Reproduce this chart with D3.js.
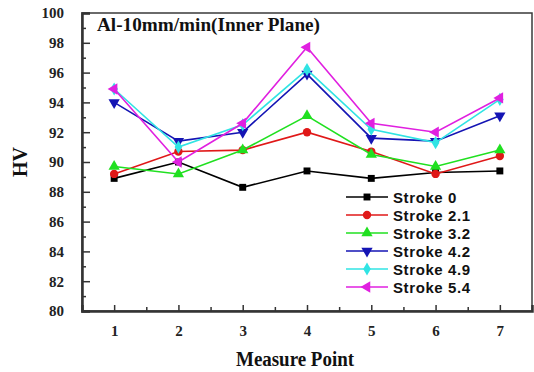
<!DOCTYPE html>
<html>
<head>
<meta charset="utf-8">
<script src="https://cdn.jsdelivr.net/npm/d3@7"></script>
<style>
  body { margin: 0; background: #fff; }
  svg { display: block; }
</style>
</head>
<body>
<script>
var points = [1, 2, 3, 4, 5, 6, 7];
var seriesNames = ["Stroke 0", "Stroke 2.1", "Stroke 3.2", "Stroke 4.2", "Stroke 4.9", "Stroke 5.4"];
var stroke0  = [88.9, 90.0, 88.3, 89.4, 88.9, 89.3, 89.4];
var stroke21 = [89.2, 90.7, 90.8, 92.0, 90.7, 89.2, 90.4];
var stroke32 = [89.7, 89.2, 90.8, 93.1, 90.5, 89.7, 90.8];
var stroke42 = [94.0, 91.4, 92.0, 95.9, 91.6, 91.4, 93.1];
var stroke49 = [94.9, 91.0, 92.5, 96.2, 92.2, 91.3, 94.2];
var stroke54 = [94.9, 90.0, 92.6, 97.7, 92.6, 92.0, 94.3];
var yTicks = [80, 82, 84, 86, 88, 90, 92, 94, 96, 98, 100];

(function() {
    var w = 534;
    var h = 372;
    var m = {left: 82, top: 13, right: 2, bottom: 61};

    var colors = ["#000000", "#e01818", "#20e020", "#1414b4", "#30e4e4", "#e020e0"];
    var values = [stroke0, stroke21, stroke32, stroke42, stroke49, stroke54];
    // symbol type + rotation for each series
    var shapes = [
        {t: d3.symbolSquare, r: 0, s: 48},
        {t: d3.symbolCircle, r: 0, s: 55},
        {t: d3.symbolTriangle, r: 0, s: 55},
        {t: d3.symbolTriangle, r: 180, s: 55},
        {t: d3.symbolDiamond, r: 0, s: 50},
        {t: d3.symbolTriangle, r: -90, s: 55}
    ];

    var svg = d3.select("body").append("svg")
        .attr("width", w)
        .attr("height", h);

    var x = d3.scaleLinear().domain([0.5, 7.5]).range([m.left, w - m.right]);
    var y = d3.scaleLinear().domain([80, 100]).range([h - m.bottom, m.top]);

    // frame
    svg.append("rect")
        .attr("x", m.left).attr("y", m.top)
        .attr("width", w - m.right - m.left)
        .attr("height", h - m.bottom - m.top)
        .attr("fill", "none")
        .attr("stroke", "#3a3a3a")
        .attr("stroke-width", 1.5);

    // minor ticks
    var minorY = d3.range(81, 100, 2);
    svg.append("g")
        .attr("transform", "translate(" + m.left + ",0)")
        .call(d3.axisLeft(y).tickValues(minorY).tickSize(-4).tickFormat(""))
        .call(function(g) { g.select(".domain").remove(); })
        .selectAll("line").attr("stroke", "#333").attr("stroke-width", 1.5);

    var minorX = d3.range(1.5, 7.5, 1);
    svg.append("g")
        .attr("transform", "translate(0," + (h - m.bottom) + ")")
        .call(d3.axisBottom(x).tickValues(minorX).tickSize(-4).tickFormat(""))
        .call(function(g) { g.select(".domain").remove(); })
        .selectAll("line").attr("stroke", "#333").attr("stroke-width", 1.5);

    // y axis
    var gy = svg.append("g")
        .attr("transform", "translate(" + m.left + ",0)")
        .call(d3.axisLeft(y).tickValues(yTicks).tickSize(-8).tickPadding(18));
    gy.select(".domain").attr("stroke", "#333").attr("stroke-width", 2.5);
    gy.selectAll("line").attr("stroke", "#333").attr("stroke-width", 1.5);
    gy.selectAll("text")
        .attr("font-family", "Liberation Serif, serif")
        .attr("font-weight", "bold")
        .attr("font-size", 15)
        .attr("fill", "#222");

    // x axis
    var gx = svg.append("g")
        .attr("transform", "translate(0," + (h - m.bottom) + ")")
        .call(d3.axisBottom(x).tickValues(points).tickFormat(d3.format("d"))
            .tickSize(-6).tickPadding(14));
    gx.select(".domain").attr("stroke", "#333").attr("stroke-width", 2.5);
    gx.selectAll("line").attr("stroke", "#333").attr("stroke-width", 1.5);
    gx.selectAll("text")
        .attr("font-family", "Liberation Serif, serif")
        .attr("font-weight", "bold")
        .attr("font-size", 15)
        .attr("fill", "#222");

    // axis titles
    svg.append("text")
        .text("Measure Point")
        .attr("x", 295).attr("y", 366)
        .attr("text-anchor", "middle")
        .attr("font-family", "Liberation Serif, serif")
        .attr("font-weight", "bold")
        .attr("font-size", 20)
        .attr("textLength", 118)
        .attr("lengthAdjust", "spacingAndGlyphs")
        .attr("fill", "#111");

    svg.append("text")
        .text("HV")
        .attr("transform", "translate(27,162) rotate(-90)")
        .attr("text-anchor", "middle")
        .attr("font-family", "Liberation Serif, serif")
        .attr("font-weight", "bold")
        .attr("font-size", 20)
        .attr("fill", "#111");

    svg.append("text")
        .text("Al-10mm/min(Inner Plane)")
        .attr("x", 97).attr("y", 31)
        .attr("font-family", "Liberation Serif, serif")
        .attr("font-weight", "bold")
        .attr("font-size", 19)
        .attr("textLength", 223)
        .attr("lengthAdjust", "spacingAndGlyphs")
        .attr("fill", "#111");

    // series
    var line = d3.line()
        .x(function(d, i) { return x(points[i]); })
        .y(function(d) { return y(d); });

    function symbolPath(k) {
        return d3.symbol().type(shapes[k].t).size(shapes[k].s)();
    }

    values.forEach(function(vals, k) {
        var g = svg.append("g");
        g.append("path")
            .attr("d", line(vals))
            .attr("fill", "none")
            .attr("stroke", colors[k])
            .attr("stroke-width", 1.6);
        g.selectAll("path.pt")
            .data(vals)
            .enter()
            .append("path")
            .attr("class", "pt")
            .attr("d", symbolPath(k))
            .attr("transform", function(d, i) {
                return "translate(" + x(points[i]) + "," + y(d) + ") rotate(" + shapes[k].r + ")";
            })
            .attr("fill", colors[k]);
    });

    // legend
    var lg = svg.append("g").attr("transform", "translate(346,197)");
    seriesNames.forEach(function(name, k) {
        var row = lg.append("g").attr("transform", "translate(0," + (k * 18) + ")");
        row.append("line")
            .attr("x1", 0).attr("x2", 42)
            .attr("y1", 0).attr("y2", 0)
            .attr("stroke", colors[k])
            .attr("stroke-width", 1.6);
        row.append("path")
            .attr("d", symbolPath(k))
            .attr("transform", "translate(21,0) rotate(" + shapes[k].r + ")")
            .attr("fill", colors[k]);
        row.append("text")
            .text(name)
            .attr("x", 47).attr("y", 5.5)
            .attr("font-family", "Liberation Sans, Arial, sans-serif")
            .attr("font-weight", "bold")
            .attr("font-size", 15)
            .attr("letter-spacing", 0.6)
            .attr("fill", "#111");
    });
})();
</script>
</body>
</html>
